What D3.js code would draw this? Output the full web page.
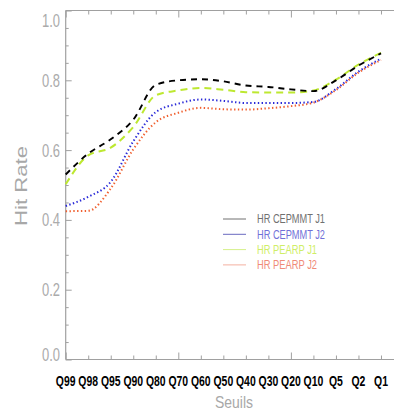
<!DOCTYPE html>
<html><head><meta charset="utf-8">
<script src="https://cdn.jsdelivr.net/npm/d3@7"></script>
<style>body{margin:0;background:#fff}svg{display:block}</style>
</head><body>
<script>
const categories = ["Q99","Q98","Q95","Q90","Q80","Q70","Q60","Q50","Q40","Q30","Q20","Q10","Q5","Q2","Q1"];
const cepmmtJ1 = [0.530,0.590,0.631,0.687,0.787,0.800,0.803,0.797,0.785,0.781,0.774,0.769,0.800,0.842,0.877];
const cepmmtJ2 = [0.440,0.466,0.509,0.625,0.709,0.733,0.745,0.741,0.735,0.735,0.735,0.738,0.775,0.825,0.862];
const pearpJ1  = [0.502,0.585,0.607,0.666,0.757,0.771,0.778,0.773,0.766,0.765,0.765,0.771,0.802,0.845,0.879];
const pearpJ2  = [0.425,0.426,0.490,0.602,0.680,0.707,0.721,0.717,0.716,0.720,0.726,0.736,0.772,0.822,0.858];
const seriesNames = ["HR CEPMMT J1","HR CEPMMT J2","HR PEARP J1","HR PEARP J2"];
const yTicks = [0.0,0.2,0.4,0.6,0.8,1.0];

(function(){
const W = 394, H = 413;
const pLeft = 65.7, pTop = 10.5, pBottom = 359.5;
const step = 22.52;
const svg = d3.select("body").append("svg").attr("width", W).attr("height", H);

const x = d3.scalePoint().domain(categories).range([pLeft, pLeft + step*(categories.length-1)]);
const y = d3.scaleLinear().domain([0,1]).range([pBottom, pTop]);

const axisCol = "#a0a0a0";
svg.append("line").attr("x1",pLeft).attr("x2",pLeft).attr("y1",pTop).attr("y2",pBottom).attr("stroke",axisCol).attr("stroke-width",1.2);
svg.append("line").attr("x1",pLeft).attr("x2",W).attr("y1",pTop).attr("y2",pTop).attr("stroke",axisCol).attr("stroke-width",1.2);
svg.append("line").attr("x1",pLeft).attr("x2",W).attr("y1",pBottom).attr("y2",pBottom).attr("stroke",axisCol).attr("stroke-width",1.2);

const yAxis = d3.axisRight(y).tickValues(yTicks).tickSize(6).tickFormat("");
const gy = svg.append("g").attr("transform",`translate(${pLeft},0)`).call(yAxis);
gy.select(".domain").remove();
gy.selectAll("line").attr("stroke",axisCol);
const yMinor = d3.axisRight(y).tickValues(d3.range(0,1.0001,0.05).filter(v=>Math.abs(v*5-Math.round(v*5))>1e-6)).tickSize(3).tickFormat("");
const gym = svg.append("g").attr("transform",`translate(${pLeft},0)`).call(yMinor);
gym.select(".domain").remove();
gym.selectAll("line").attr("stroke",axisCol);

svg.append("g").selectAll("text").data(yTicks).join("text")
  .attr("transform", d => {
    let yy = y(d);
    yy = Math.max(pTop + 10, Math.min(pBottom - 5, yy));
    return `translate(60,${yy}) scale(0.72,1)`;
  })
  .attr("text-anchor","end").attr("dy","0.36em")
  .attr("font-family","Liberation Sans, Arial, sans-serif").attr("font-size",18)
  .attr("fill","#ababab")
  .text(d => d.toFixed(1));

const majorIdx = new Set([0,5,10]);
const gxb = svg.append("g").attr("transform",`translate(0,${pBottom})`).call(d3.axisTop(x).tickSize(4).tickFormat(""));
gxb.select(".domain").remove();
gxb.selectAll(".tick line").attr("stroke",axisCol).attr("y2",(d,i)=>majorIdx.has(i)?-7:-4);
const gxt = svg.append("g").attr("transform",`translate(0,${pTop})`).call(d3.axisBottom(x).tickSize(4).tickFormat(""));
gxt.select(".domain").remove();
gxt.selectAll(".tick line").attr("stroke",axisCol).attr("y2",(d,i)=>majorIdx.has(i)?7:4);

svg.append("g").selectAll("text").data(categories).join("text")
  .attr("transform", d => `translate(${x(d)},${385.5}) scale(0.72,1)`)
  .attr("text-anchor","middle")
  .attr("font-family","Liberation Sans, Arial, sans-serif").attr("font-size",14.5).attr("font-weight","bold")
  .attr("fill","#000")
  .text(d => d);

svg.append("text").attr("x",234).attr("y",408).attr("text-anchor","middle")
  .attr("font-family","Liberation Sans, Arial, sans-serif").attr("font-size",17).attr("fill","#a8a8a8")
  .attr("textLength",38).attr("lengthAdjust","spacingAndGlyphs").text("Seuils");
svg.append("text").attr("transform","translate(27,186) rotate(-90)").attr("text-anchor","middle")
  .attr("font-family","Liberation Sans, Arial, sans-serif").attr("font-size",16).attr("fill","#a8a8a8")
  .attr("textLength",80).attr("lengthAdjust","spacingAndGlyphs").text("Hit Rate");

const series = [
  {name: seriesNames[0], values: cepmmtJ1, color:"#000000", dash:"6,5", w:1.9, legColor:"#707070", textColor:"#707070"},
  {name: seriesNames[1], values: cepmmtJ2, color:"#2a2ad8", dash:"1.4,2.4", w:2, legColor:"#6a6ac0", textColor:"#7070d8"},
  {name: seriesNames[2], values: pearpJ1, color:"#bde830", dash:"7,5", w:2, legColor:"#d6f08a", textColor:"#cfee66"},
  {name: seriesNames[3], values: pearpJ2, color:"#f06030", dash:"1.4,2.4", w:2, legColor:"#f4b0a0", textColor:"#f08a78"}
];
const line = d3.line().x((d,i)=>x(categories[i])).y(d=>y(d)).curve(d3.curveMonotoneX);
const drawOrder = [3,1,2,0];
svg.append("g").selectAll("path").data(drawOrder.map(i=>series[i])).join("path")
  .attr("d", s => line(s.values))
  .attr("fill","none").attr("stroke", s=>s.color).attr("stroke-width", s=>s.w)
  .attr("stroke-dasharray", s=>s.dash);

const leg = svg.append("g");
series.forEach((s,i)=>{
  const yy = 219 + i*15.3;
  leg.append("line").attr("x1",223).attr("x2",246).attr("y1",yy).attr("y2",yy).attr("stroke",s.legColor).attr("stroke-width",1);
  leg.append("text").attr("x",257).attr("y",yy).attr("dy","0.36em")
    .attr("font-family","Liberation Sans, Arial, sans-serif").attr("font-size",12).attr("fill",s.textColor)
    .attr("textLength", i<2 ? 68 : 60).attr("lengthAdjust","spacingAndGlyphs").text(s.name);
});
})();
</script>
</body></html>
